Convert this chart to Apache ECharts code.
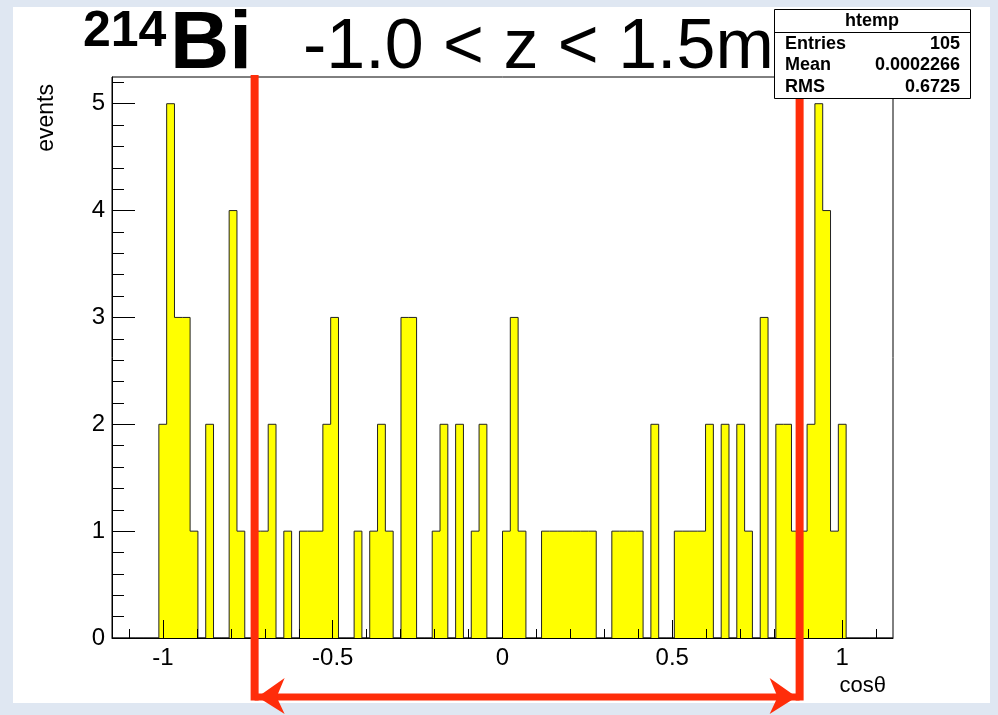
<!DOCTYPE html>
<html>
<head>
<meta charset="utf-8">
<script src="https://cdn.jsdelivr.net/npm/echarts@6/dist/echarts.min.js"></script>
<style>
  html, body { margin: 0; padding: 0; width: 998px; height: 715px; overflow: hidden;
    background: #dfe7f2; }
  #panel { position: absolute; left: 13px; top: 7px; width: 977px; height: 696px; background: #fff; }
  #chart { position: absolute; left: 0; top: 0; width: 998px; height: 715px; }
</style>
</head>
<body>
<div id="panel"></div>
<div id="chart"></div>
<script>
// Histogram binning: 100 bins of equal width starting at binLow
const binLow = -1.15;
const binWidth = 0.023;
const counts = [
  0, 0, 0, 0, 0, 0, 2, 5, 3, 3,
  1, 0, 2, 0, 0, 4, 1, 0, 1, 1,
  2, 0, 1, 0, 1, 1, 1, 2, 3, 0,
  0, 1, 0, 1, 2, 1, 0, 3, 3, 0,
  0, 1, 2, 0, 2, 0, 1, 2, 0, 0,
  1, 3, 1, 0, 0, 1, 1, 1, 1, 1,
  1, 1, 0, 0, 1, 1, 1, 1, 0, 2,
  0, 0, 1, 1, 1, 1, 2, 0, 2, 0,
  2, 1, 0, 3, 0, 2, 2, 1, 1, 2,
  5, 4, 1, 2, 0, 0, 0, 0, 0, 0
];

// Axis ticks
const xMajorTicks = [-1, -0.5, 0, 0.5, 1];
const xMinorTicks = [-1.1, -1.0, -0.9, -0.8, -0.7, -0.6, -0.5, -0.4, -0.3, -0.2, -0.1, 0,
                     0.1, 0.2, 0.3, 0.4, 0.5, 0.6, 0.7, 0.8, 0.9, 1.0, 1.1];
const yMajorTicks = [0, 1, 2, 3, 4, 5];
const yMinorTicks = [0, 0.2, 0.4, 0.6, 0.8, 1, 1.2, 1.4, 1.6, 1.8, 2, 2.2, 2.4, 2.6, 2.8,
                     3, 3.2, 3.4, 3.6, 3.8, 4, 4.2, 4.4, 4.6, 4.8, 5, 5.2];

// Statistics box
const statsTitle = 'htemp';
const statsLabels = ['Entries', 'Mean', 'RMS'];
const statsValues = ['105', '0.0002266', '0.6725'];

// Selected cosθ window
const cutLow = -0.73;
const cutHigh = 0.875;

const FONT = '"Liberation Sans", Arial, Helvetica, sans-serif';

// Step outline points: left edge of each bin, plus the closing edge
const stepData = counts.map((c, i) => [binLow + i * binWidth, c]);
stepData.push([binLow + counts.length * binWidth, 0]);

const chart = echarts.init(document.getElementById('chart'), null, { renderer: 'canvas' });

const xBase = {
  type: 'value', min: -1.15, max: 1.15, position: 'bottom',
  splitLine: { show: false }, z: 10
};
const yBase = {
  type: 'value', min: 0, max: 5.25, position: 'left',
  splitLine: { show: false }, z: 10
};

chart.setOption({
  backgroundColor: 'transparent',
  animation: false,
  grid: {
    left: 112, right: 105, top: 77, bottom: 77,
    show: true, borderColor: '#000', borderWidth: 1, backgroundColor: 'transparent'
  },
  xAxis: [
    Object.assign({}, xBase, {
      axisLine: { onZero: false, lineStyle: { color: '#000', width: 1 } },
      axisTick: { inside: true, length: 18, customValues: xMajorTicks, lineStyle: { color: '#000' } },
      axisLabel: { customValues: xMajorTicks, fontFamily: FONT, fontSize: 24, color: '#000', margin: 8 }
    }),
    Object.assign({}, xBase, {
      axisLine: { show: false, onZero: false },
      axisTick: { inside: true, length: 9, customValues: xMinorTicks, lineStyle: { color: '#000' } },
      axisLabel: { show: false }
    })
  ],
  yAxis: [
    Object.assign({}, yBase, {
      axisLine: { show: true, onZero: false, lineStyle: { color: '#000', width: 1 } },
      axisTick: { show: true, inside: true, length: 23, customValues: yMajorTicks, lineStyle: { color: '#000' } },
      axisLabel: { customValues: yMajorTicks, fontFamily: FONT, fontSize: 24, color: '#000', margin: 7 }
    }),
    Object.assign({}, yBase, {
      axisLine: { show: false, onZero: false },
      axisTick: { show: true, inside: true, length: 12, customValues: yMinorTicks, lineStyle: { color: '#000' } },
      axisLabel: { show: false }
    })
  ],
  series: [{
    type: 'line',
    xAxisIndex: 0, yAxisIndex: 0,
    step: 'end',
    symbol: 'none',
    data: stepData,
    lineStyle: { color: '#222', width: 1 },
    areaStyle: { color: '#ffff00', opacity: 1, origin: 'start' },
    z: 2
  }]
});

// Annotations, stats box and title
const xl = chart.convertToPixel({ xAxisIndex: 0 }, cutLow);
const xr = chart.convertToPixel({ xAxisIndex: 0 }, cutHigh);
const RED = '#ff2d0a';
const arrowY = 697;

const graphics = [
  // title
  { type: 'text', x: 83, y: 32, z: 50,
    style: { text: '214', font: 'bold 50px ' + FONT, fill: '#000', verticalAlign: 'middle', align: 'left' } },
  { type: 'text', x: 170, y: 45, z: 50,
    style: { text: 'Bi', font: 'bold 82px ' + FONT, fill: '#000', verticalAlign: 'middle', align: 'left' } },
  { type: 'text', x: 303, y: 49, z: 50,
    style: { text: '-1.0 < z < 1.5m', font: '70px ' + FONT, fill: '#000', verticalAlign: 'middle', align: 'left' } },
  // axis titles
  { type: 'text', x: 47, y: 84, rotation: Math.PI / 2, z: 50,
    style: { text: 'events', font: '23px ' + FONT, fill: '#000', verticalAlign: 'middle', align: 'right' } },
  { type: 'text', x: 886, y: 686, z: 50,
    style: { text: 'cosθ', font: '22px ' + FONT, fill: '#000', verticalAlign: 'middle', align: 'right' } },
  // stats box
  { type: 'rect', z: 60, shape: { x: 774.5, y: 9.5, width: 196, height: 89 },
    style: { fill: '#fff', stroke: '#000', lineWidth: 1 } },
  { type: 'line', z: 61, shape: { x1: 774.5, y1: 32.5, x2: 970.5, y2: 32.5 },
    style: { stroke: '#000', lineWidth: 1 } },
  { type: 'text', x: 872, y: 21, z: 62,
    style: { text: statsTitle, font: 'bold 18px ' + FONT, fill: '#000', align: 'center', verticalAlign: 'middle' } }
];
statsLabels.forEach((lab, i) => {
  const y = 44 + i * 21.5;
  graphics.push({ type: 'text', x: 785, y: y, z: 62,
    style: { text: lab, font: 'bold 18px ' + FONT, fill: '#000', align: 'left', verticalAlign: 'middle' } });
  graphics.push({ type: 'text', x: 960, y: y, z: 62,
    style: { text: statsValues[i], font: 'bold 18px ' + FONT, fill: '#000', align: 'right', verticalAlign: 'middle' } });
});
// red bracket with double arrow
graphics.push(
  { type: 'line', z: 70, shape: { x1: xl, y1: 75, x2: xl, y2: arrowY + 3.5 },
    style: { stroke: RED, lineWidth: 8 } },
  { type: 'line', z: 70, shape: { x1: xr, y1: 99, x2: xr, y2: arrowY + 3.5 },
    style: { stroke: RED, lineWidth: 8 } },
  { type: 'line', z: 70, shape: { x1: xl, y1: arrowY, x2: xr, y2: arrowY },
    style: { stroke: RED, lineWidth: 7 } },
  { type: 'polygon', z: 71,
    shape: { points: [[xl + 3, arrowY], [xl + 30, arrowY - 19], [xl + 22, arrowY], [xl + 30, arrowY + 17]] },
    style: { fill: RED } },
  { type: 'polygon', z: 71,
    shape: { points: [[xr - 3, arrowY], [xr - 30, arrowY - 19], [xr - 22, arrowY], [xr - 30, arrowY + 17]] },
    style: { fill: RED } }
);

chart.setOption({ graphic: graphics });
</script>
</body>
</html>
